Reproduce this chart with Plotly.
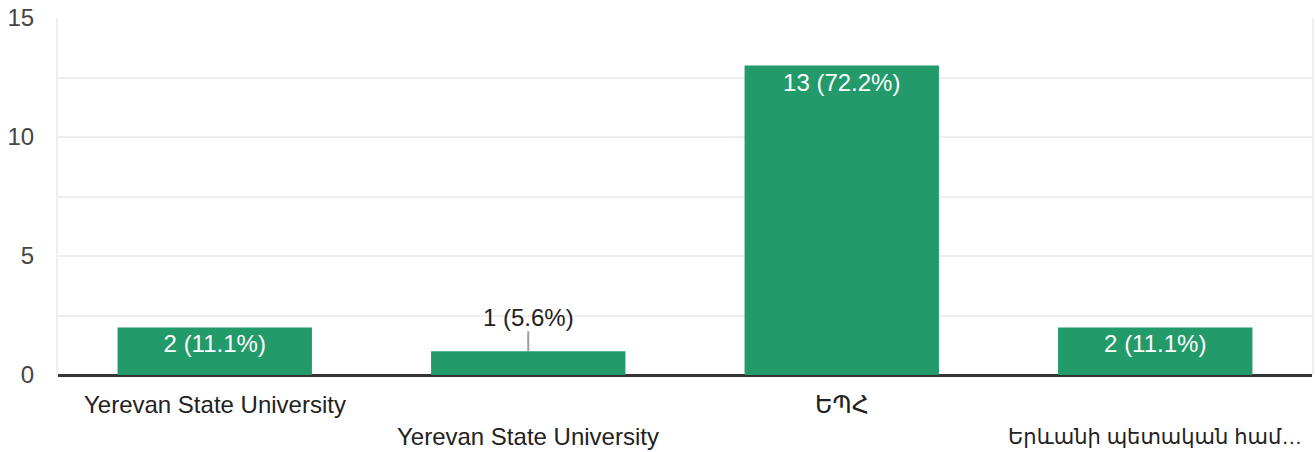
import plotly.graph_objects as go

categories = ["Yerevan State University", "Yerevan State University", "ԵՊՀ", "Երևանի պետական համ…"]
counts = [2, 1, 13, 2]
percents = ["11.1%", "5.6%", "72.2%", "11.1%"]
inside = [True, False, True, True]
y_tickvals = [0, 2.5, 5, 7.5, 10, 12.5, 15]
y_ticktext = ["0", "", "5", "", "10", "", "15"]

FONT = "Arial, 'Liberation Sans', 'DejaVu Sans', sans-serif"
GREEN = "#229a6a"
FS = 24

xs = list(range(len(categories)))
labels = [f"{c} ({p})" for c, p in zip(counts, percents)]

def is_latin(s):
    return all(ord(ch) < 0x500 for ch in s)

fig = go.Figure()
fig.add_trace(go.Bar(
    x=xs, y=counts,
    marker=dict(color=GREEN, line=dict(width=0)),
    width=0.62,
    text=[l if ins else "" for l, ins in zip(labels, inside)],
    textposition="inside",
    insidetextanchor="end",
    textangle=0,
    constraintext="none",
    textfont=dict(family=FONT, size=FS, color="white"),
    hoverinfo="skip",
))

annotations = []
for x, c, l, ins in zip(xs, counts, labels, inside):
    if not ins:
        annotations.append(dict(
            x=x, y=c, xref="x", yref="y", text=l,
            showarrow=True, arrowhead=0, arrowwidth=2, arrowcolor="#9e9e9e",
            ax=0, ay=-34, standoff=0, borderpad=0,
            font=dict(family=FONT, size=FS, color="#222222"),
        ))

for x, cat in zip(xs, categories):
    annotations.append(dict(
        x=x, y=0, xref="x", yref="paper", text=cat,
        showarrow=False, yanchor="middle", xanchor="center",
        yshift=-29 if x % 2 == 0 else -61,
        font=dict(family=FONT, size=FS if is_latin(cat) or len(cat) < 5 else 21,
                  color="#222222"),
    ))

fig.update_layout(
    width=1315, height=452,
    margin=dict(l=58, r=3, t=18, b=77, autoexpand=False),
    paper_bgcolor="white", plot_bgcolor="white",
    showlegend=False,
    annotations=annotations,
    xaxis=dict(range=[-0.5, 3.5], showticklabels=False, showgrid=False,
               zeroline=False, showline=False, fixedrange=True, automargin=False),
    yaxis=dict(range=[0, 15], tickvals=y_tickvals, ticktext=y_ticktext,
               showgrid=True, gridcolor="#eeeeee", gridwidth=2,
               zeroline=True, zerolinecolor="#333333", zerolinewidth=3,
               showline=True, linecolor="#eeeeee", linewidth=2, mirror=True,
               ticks="", ticklabelstandoff=17, automargin=False,
               tickfont=dict(family=FONT, size=FS, color="#444444"),
               fixedrange=True),
)

fig.write_html("out.html", config={"displayModeBar": False, "staticPlot": True},
               post_script="document.body.style.margin='0';document.body.style.overflow='hidden';")
